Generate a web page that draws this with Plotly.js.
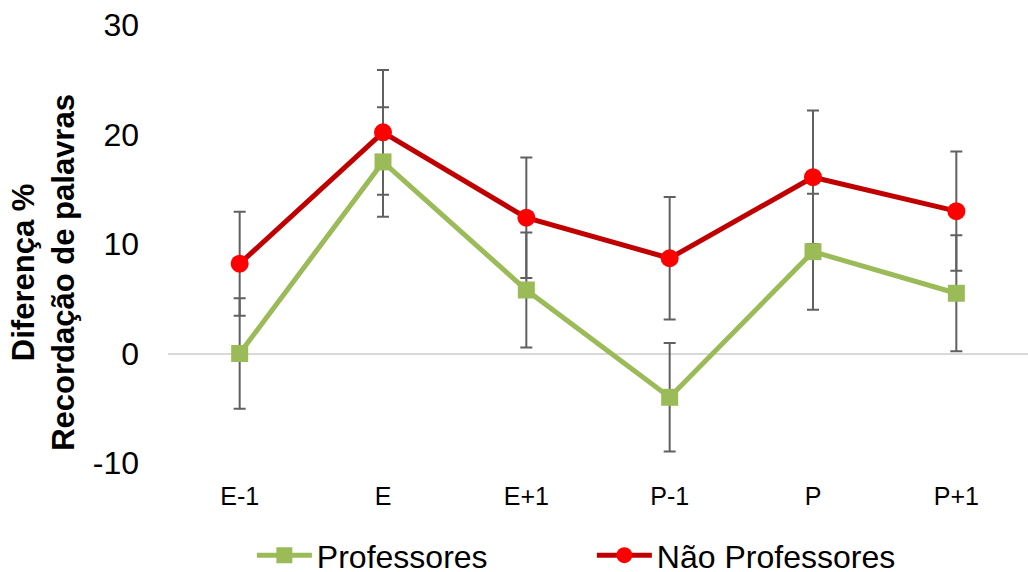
<!DOCTYPE html>
<html>
<head>
<meta charset="utf-8">
<script src="https://cdn.plot.ly/plotly-3.0.1.min.js"></script>
<style>html,body{margin:0;padding:0;background:#fff;}#chart{width:1028px;height:572px;}</style>
</head>
<body>
<div id="chart"></div>
<script>
const categories = ["E-1", "E", "E+1", "P-1", "P", "P+1"];
const professores = [0.0, 17.5, 5.8, -4.0, 9.3, 5.5];
const professoresErr = [5.05, 5.0, 5.25, 4.95, 5.3, 5.3];
const naoProfessores = [8.2, 20.2, 12.4, 8.7, 16.1, 13.0];
const naoProfessoresErr = [4.75, 5.7, 5.5, 5.6, 6.1, 5.45];
const yTicks = [-10, 0, 10, 20, 30];
const yTickLabels = ["-10", "0", "10", "20", "30"];

const FONT = "Liberation Sans, Arial, sans-serif";
const errStyle = {type: "data", visible: true, thickness: 2, width: 6, color: "#606060"};

const traces = [
  {x: categories, y: naoProfessores, mode: "markers", marker: {size: 1, opacity: 0},
   error_y: Object.assign({array: naoProfessoresErr}, errStyle), showlegend: false, hoverinfo: "skip"},
  {x: categories, y: professores, mode: "markers", marker: {size: 1, opacity: 0},
   error_y: Object.assign({array: professoresErr}, errStyle), showlegend: false, hoverinfo: "skip"},
  {x: categories, y: professores, name: "Professores", mode: "lines+markers",
   line: {color: "#9BBB59", width: 5}, marker: {symbol: "square", size: 17, color: "#9BBB59"}},
  {x: categories, y: naoProfessores, name: "Não Professores", mode: "lines+markers",
   line: {color: "#C00000", width: 5}, marker: {symbol: "circle", size: 18, color: "#FF0000"}}
];

const layout = {
  width: 1028, height: 572,
  margin: {l: 168, r: 0, t: 25, b: 109, pad: 0},
  paper_bgcolor: "#ffffff", plot_bgcolor: "#ffffff",
  font: {family: FONT, color: "#000000"},
  xaxis: {type: "category", range: [-0.5, 5.5], showgrid: false, zeroline: false, showline: false,
          ticks: "", tickfont: {size: 25, family: FONT}, ticklabelstandoff: 16, fixedrange: true},
  yaxis: {range: [-10, 30], tickvals: yTicks, ticktext: yTickLabels, showgrid: false, zeroline: true,
          zerolinecolor: "#D9D9D9", zerolinewidth: 2, showline: false, ticks: "",
          tickfont: {size: 32, family: FONT}, ticklabelstandoff: 28, fixedrange: true},
  showlegend: true,
  legend: {orientation: "h", xref: "container", yref: "container", x: 0.245, y: 0.029,
           xanchor: "left", yanchor: "middle", font: {size: 32, family: FONT},
           itemwidth: 55, entrywidth: 270, tracegroupgap: 0, bgcolor: "rgba(0,0,0,0)"},
  annotations: [{
    text: "<b>Diferença %</b><br><b>Recordação de palavras</b>",
    xref: "paper", yref: "paper", x: -0.145, y: 0.435, xanchor: "center", yanchor: "middle",
    textangle: -90, showarrow: false, font: {size: 31, family: FONT, color: "#000"}
  }]
};

Plotly.newPlot("chart", traces, layout, {staticPlot: true, displayModeBar: false});
</script>
</body>
</html>
